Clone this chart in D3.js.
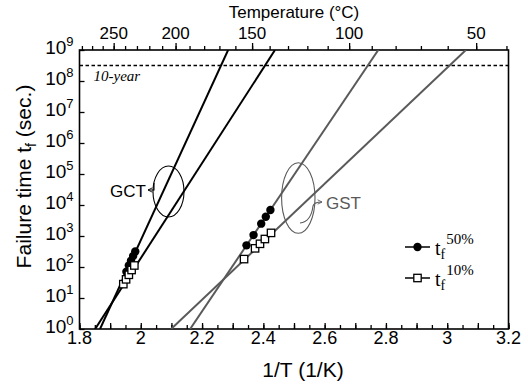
<!DOCTYPE html>
<html>
<head>
<meta charset="utf-8">
<script src="https://cdn.jsdelivr.net/npm/d3@7"></script>
<style>
  body { margin: 0; background: #fff; }
  svg { display: block; }
</style>
</head>
<body>
<script>
// ---- data ----
const xLabels = [1.8, 2, 2.2, 2.4, 2.6, 2.8, 3, 3.2];
const yExponents = [0, 1, 2, 3, 4, 5, 6, 7, 8, 9];
const tempLabels = [250, 200, 150, 100, 50];
const tempMinor = [280, 270, 260, 250, 240, 230, 220, 210, 200, 190, 180, 170, 160, 150,
  140, 130, 120, 110, 100, 90, 80, 70, 60, 50, 40];
const tenYear = 3.15e8;

// measured points [1000/T, t_f (s)]
const gct50 = [[1.953, 70], [1.961, 112], [1.968, 160], [1.975, 225], [1.982, 315]];
const gct10 = [[1.943, 28], [1.952, 40], [1.961, 56], [1.970, 80], [1.979, 112]];
const gst50 = [[2.345, 500], [2.368, 1070], [2.393, 2500], [2.408, 4200], [2.423, 6900]];
const gst10 = [[2.337, 180], [2.373, 400], [2.389, 560], [2.405, 800], [2.425, 1260]];

// fitted lines: 1000/T where the fit hits 1 s and 1e9 s
const fitNames = ['GCT50', 'GCT10', 'GST50', 'GST10'];
const fitAt1s = [1.867, 1.851, 2.161, 2.099];
const fitAt1e9s = [2.285, 2.438, 2.775, 3.061];
const fitColors = ['#000', '#000', '#5a5a5a', '#5a5a5a'];

const W = 528, H = 388;
const margin = { top: 50, right: 19.5, bottom: 59, left: 79.5 };
const width = W - margin.left - margin.right;
const height = H - margin.top - margin.bottom;
const sans = '"Liberation Sans", Arial, sans-serif';
const serif = '"Liberation Serif", "Times New Roman", serif';

const svg = d3.select('body').append('svg')
  .attr('width', W)
  .attr('height', H);

const g = svg.append('g')
  .attr('transform', 'translate(' + margin.left + ',' + margin.top + ')');

const x = d3.scaleLinear().domain([1.8, 3.2]).range([0, width]);
const y = d3.scaleLog().domain([1, 1e9]).range([height, 0]);

// clip for the fit lines
g.append('clipPath').attr('id', 'plot')
  .append('rect').attr('width', width).attr('height', height);

// bottom axis ticks (inward)
const minorX = d3.range(1.8, 3.2001, 0.05);
g.append('g')
  .attr('transform', 'translate(0,' + height + ')')
  .call(d3.axisBottom(x).tickValues(minorX).tickSize(-4).tickFormat(''))
  .call(a => a.select('.domain').remove());
g.append('g')
  .attr('transform', 'translate(0,' + height + ')')
  .call(d3.axisBottom(x).tickValues(d3.range(1.8, 3.2001, 0.1)).tickSize(-6).tickFormat(''))
  .call(a => a.select('.domain').remove());

g.selectAll('.xlab')
  .data(xLabels)
  .enter()
  .append('text')
  .attr('x', d => x(d))
  .attr('y', height + 15)
  .attr('text-anchor', 'middle')
  .style('font', '18px ' + sans)
  .text(d => d3.format('~g')(d));

// top axis: temperature in deg C (outward)
const toInvT = c => 1000 / (c + 273.15);
g.append('g')
  .call(d3.axisTop(x).tickValues(tempMinor.map(toInvT)).tickSize(4).tickFormat(''))
  .call(a => a.select('.domain').remove());
g.append('g')
  .call(d3.axisTop(x).tickValues(tempLabels.map(toInvT)).tickSize(7).tickFormat(''))
  .call(a => a.select('.domain').remove());

g.selectAll('.tlab')
  .data(tempLabels)
  .enter()
  .append('text')
  .attr('x', d => x(toInvT(d)))
  .attr('y', -11.5)
  .attr('text-anchor', 'middle')
  .style('font', '17px ' + sans)
  .text(d => d);

// left axis (inward, decades only)
g.append('g')
  .call(d3.axisLeft(y).tickValues(yExponents.map(e => Math.pow(10, e))).tickSize(-5).tickFormat(''))
  .call(a => a.select('.domain').remove());

const ylab = g.selectAll('.ylab')
  .data(yExponents)
  .enter()
  .append('text')
  .attr('x', -6)
  .attr('y', d => y(Math.pow(10, d)) + 4)
  .attr('text-anchor', 'end')
  .style('font', '19px ' + sans);
ylab.append('tspan').text('10');
ylab.append('tspan').attr('dy', -8).style('font-size', '13px').text(d => d);

// frame
g.append('rect')
  .attr('width', width)
  .attr('height', height)
  .attr('fill', 'none')
  .attr('stroke', '#000')
  .attr('stroke-width', 1.6);

svg.selectAll('.tick line').attr('stroke', '#000').attr('stroke-width', 1.3);

// 10-year line
g.append('line')
  .attr('x1', 0).attr('x2', width)
  .attr('y1', y(tenYear)).attr('y2', y(tenYear))
  .attr('stroke', '#000')
  .attr('stroke-width', 1.4)
  .attr('stroke-dasharray', '3.5,2.5');
g.append('text')
  .attr('x', 14).attr('y', y(tenYear) + 15)
  .style('font', 'italic 15px ' + serif)
  .text('10-year');

// fit lines
g.append('g').attr('clip-path', 'url(#plot)')
  .selectAll('line')
  .data(fitNames)
  .enter()
  .append('line')
  .attr('x1', (d, i) => x(fitAt1s[i]))
  .attr('y1', y(1))
  .attr('x2', (d, i) => x(fitAt1e9s[i]))
  .attr('y2', y(1e9))
  .attr('stroke', (d, i) => fitColors[i])
  .attr('stroke-width', 2);

// markers
const marks = g.append('g');
[gct50, gst50].forEach(s => {
  marks.selectAll(null)
    .data(s)
    .enter()
    .append('circle')
    .attr('cx', d => x(d[0]))
    .attr('cy', d => y(d[1]))
    .attr('r', 4.2)
    .attr('fill', '#000');
});
[gct10, gst10].forEach(s => {
  marks.selectAll(null)
    .data(s)
    .enter()
    .append('rect')
    .attr('x', d => x(d[0]) - 3.7)
    .attr('y', d => y(d[1]) - 3.7)
    .attr('width', 7.4)
    .attr('height', 7.4)
    .attr('fill', '#fff')
    .attr('stroke', '#000')
    .attr('stroke-width', 1.3);
});

// group annotations (page coordinates)
svg.append('defs').append('marker')
  .attr('id', 'arr')
  .attr('viewBox', '0 0 10 10')
  .attr('refX', 9).attr('refY', 5)
  .attr('markerWidth', 5).attr('markerHeight', 5)
  .attr('orient', 'auto')
  .append('path')
  .attr('d', 'M1,1 L9,5 L1,9')
  .attr('fill', 'none')
  .attr('stroke', 'context-stroke')
  .attr('stroke-width', 1.6);

svg.append('ellipse')
  .attr('cx', 168.5).attr('cy', 191.5).attr('rx', 15.5).attr('ry', 25.5)
  .attr('fill', 'none').attr('stroke', '#000').attr('stroke-width', 1.1);
svg.append('path')
  .attr('d', 'M154,183 L154,190 L148,190')
  .attr('fill', 'none').attr('stroke', '#000').attr('stroke-width', 1.1)
  .attr('marker-end', 'url(#arr)');
svg.append('text')
  .attr('x', 146).attr('y', 197)
  .attr('text-anchor', 'end')
  .style('font', '17px ' + sans)
  .text('GCT');

svg.append('ellipse')
  .attr('cx', 298.3).attr('cy', 198).attr('rx', 16.7).attr('ry', 35.3)
  .attr('fill', 'none').attr('stroke', '#5a5a5a').attr('stroke-width', 1.1);
svg.append('path')
  .attr('d', 'M300,223 C309,222 312,214 313,206 Q314,202 322,202')
  .attr('fill', 'none').attr('stroke', '#5a5a5a').attr('stroke-width', 1.1)
  .attr('marker-end', 'url(#arr)');
svg.append('text')
  .attr('x', 326).attr('y', 209)
  .style('font', '17px ' + sans)
  .attr('fill', '#5a5a5a')
  .text('GST');

// legend
const legend = svg.append('g');
const legendRows = [{ y: 247, sup: '50%', mark: 'circle' }, { y: 278, sup: '10%', mark: 'square' }];
legendRows.forEach(r => {
  legend.append('line')
    .attr('x1', 405).attr('x2', 430)
    .attr('y1', r.y).attr('y2', r.y)
    .attr('stroke', '#000').attr('stroke-width', 1.5);
  if (r.mark === 'circle') {
    legend.append('circle').attr('cx', 417.5).attr('cy', r.y).attr('r', 4.2).attr('fill', '#000');
  } else {
    legend.append('rect').attr('x', 413.8).attr('y', r.y - 3.7)
      .attr('width', 7.4).attr('height', 7.4)
      .attr('fill', '#fff').attr('stroke', '#000').attr('stroke-width', 1.3);
  }
  const t = legend.append('text')
    .attr('x', 435).attr('y', r.y + 8)
    .style('font', '20px ' + serif);
  t.append('tspan').text('t');
  t.append('tspan').attr('dy', 4).style('font-size', '14px').text('f');
  t.append('tspan').attr('dy', -15).attr('dx', 1).style('font-size', '15px').text(r.sup);
});

// axis titles
svg.append('text')
  .attr('x', 294).attr('y', 17.5)
  .attr('text-anchor', 'middle')
  .style('font', '17px ' + sans)
  .text('Temperature (°C)');

svg.append('text')
  .attr('x', 303).attr('y', 377)
  .attr('text-anchor', 'middle')
  .style('font', '21px ' + sans)
  .text('1/T (1/K)');

const yt = svg.append('text')
  .attr('transform', 'translate(31,176.5) rotate(-90)')
  .attr('text-anchor', 'middle')
  .style('font', '21px ' + sans);
yt.append('tspan').text('Failure time t');
yt.append('tspan').attr('dy', 5).style('font-size', '14px').text('f');
yt.append('tspan').attr('dy', -5).attr('dx', 6).text('(sec.)');
</script>
</body>
</html>
